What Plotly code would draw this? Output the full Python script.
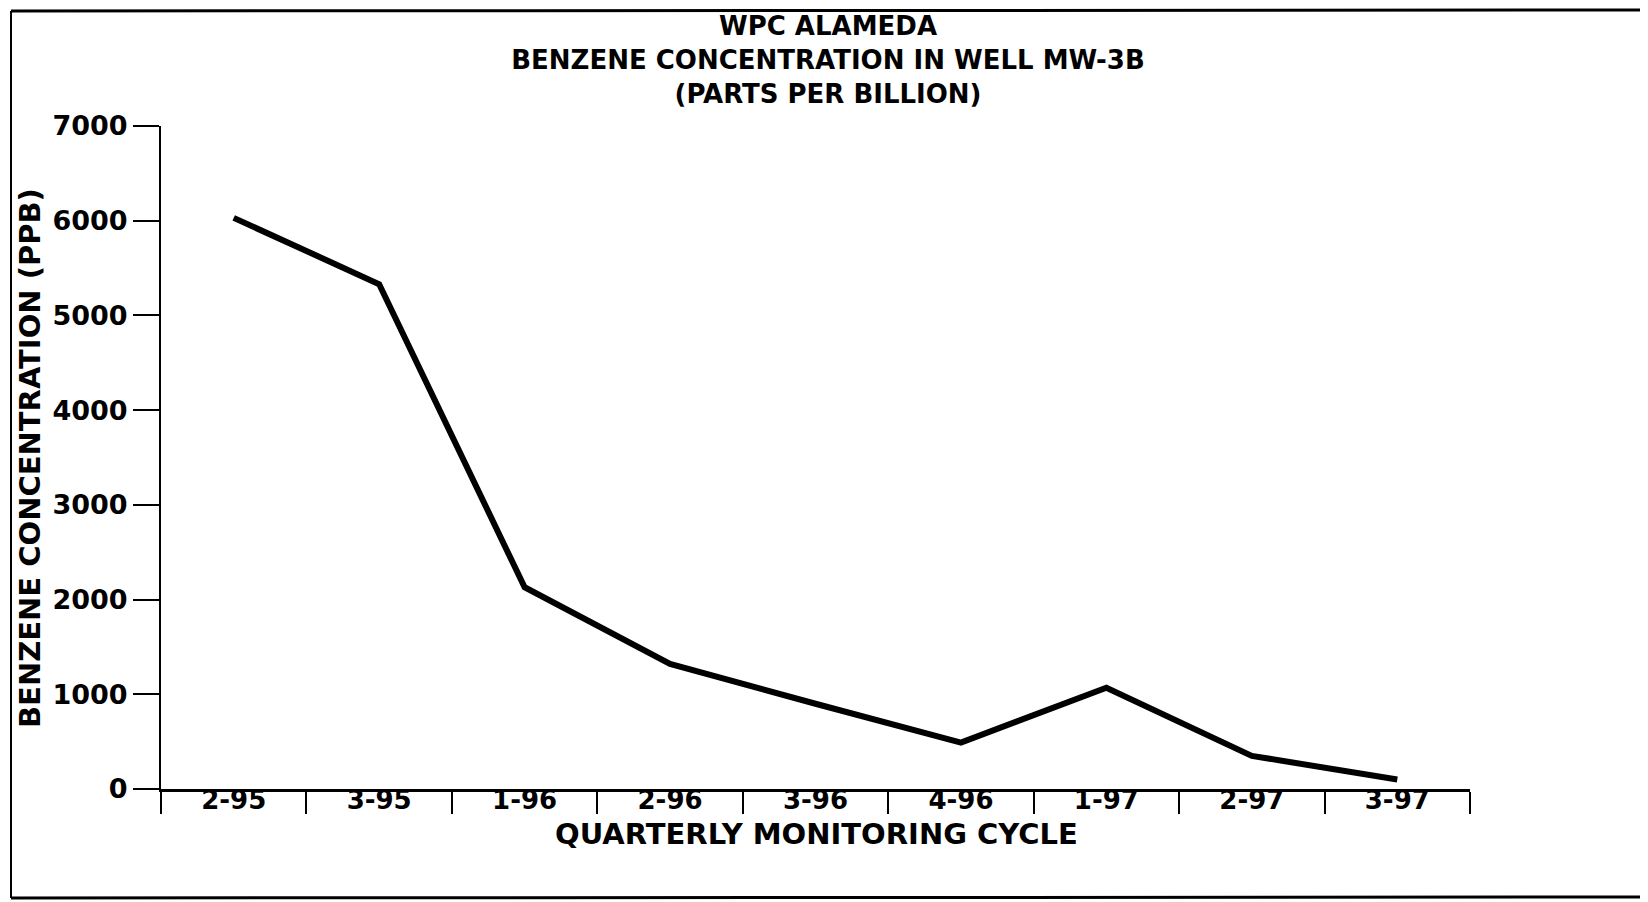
import plotly.graph_objects as go

quarters = ["2-95", "3-95", "1-96", "2-96", "3-96", "4-96", "1-97", "2-97", "3-97"]
benzene_ppb = [6030, 5330, 2130, 1320, 900, 490, 1070, 350, 100]
y_ticks = [0, 1000, 2000, 3000, 4000, 5000, 6000, 7000]

title_lines = ["WPC ALAMEDA", "BENZENE CONCENTRATION IN WELL MW-3B", "(PARTS PER BILLION)"]
x_title = "QUARTERLY MONITORING CYCLE"
y_title = "BENZENE CONCENTRATION (PPB)"

OFF = 8  # page body margin
W, H = 1648 - OFF, 902 - OFF
# plot area in screen pixels of the reference
L, R, T, B = 161 - OFF, 1470 - OFF, 126 - OFF, 789 - OFF
FONT = "DejaVu Sans"

def px(xs):
    return (xs - OFF - L) / (R - L)

def py(ys):
    return (B - (ys - OFF)) / (B - T)

fig = go.Figure()
fig.add_trace(go.Scatter(
    x=quarters, y=benzene_ppb, mode="lines",
    line=dict(color="black", width=6),
    showlegend=False, hoverinfo="x+y",
))

ytick_font = dict(family=FONT, size=27, color="black", weight="bold")
xtick_font = dict(family=FONT, size=26, color="black", weight="bold")
axis_title_font = dict(family=FONT, size=29, color="black", weight="bold")

annotations = [
    dict(text=x_title, x=px(816), y=py(834), xref="paper", yref="paper",
         xanchor="center", yanchor="middle", showarrow=False, font=axis_title_font),
    dict(text=y_title, x=px(30), y=py(458), xref="paper", yref="paper",
         xanchor="center", yanchor="middle", showarrow=False, textangle=-90,
         font=axis_title_font),
]

shapes = [
    dict(type="line", xref="paper", yref="paper", x0=px(11), x1=px(1660), y0=py(11), y1=py(10),
         line=dict(color="black", width=3)),
    dict(type="line", xref="paper", yref="paper", x0=px(11), x1=px(11), y0=py(11), y1=py(898),
         line=dict(color="black", width=2)),
    dict(type="line", xref="paper", yref="paper", x0=px(11), x1=px(1660), y0=py(898), y1=py(897),
         line=dict(color="black", width=3)),
]

fig.update_layout(
    width=W, height=H,
    margin=dict(l=L, r=W - R, t=T, b=H - B, autoexpand=False),
    paper_bgcolor="white", plot_bgcolor="white",
    title=dict(text="<br>".join(title_lines), x=(828 - OFF) / W, xanchor="center",
               xref="container", yref="container", y=1 - (35 - OFF) / H, yanchor="middle",
               font=dict(family=FONT, size=26, color="black", weight="bold")),
    annotations=annotations, shapes=shapes,
    showlegend=False,
)

fig.update_xaxes(
    type="category", range=[-0.5, len(quarters) - 0.5],
    tickmode="array", tickvals=quarters, ticktext=quarters,
    tickson="boundaries", ticks="outside", ticklen=22, tickwidth=2, tickcolor="black",
    ticklabelstandoff=-14,
    showline=True, linecolor="black", linewidth=3,
    showgrid=False, zeroline=False, tickfont=xtick_font, automargin=False,
)
fig.update_yaxes(
    range=[0, 7000], tickmode="array", tickvals=y_ticks, ticktext=[str(v) for v in y_ticks],
    ticks="outside", ticklen=26, tickwidth=2, tickcolor="black",
    showline=True, linecolor="black", linewidth=2,
    showgrid=False, zeroline=False, tickfont=ytick_font, automargin=False,
)

fig.write_html("out.html")
